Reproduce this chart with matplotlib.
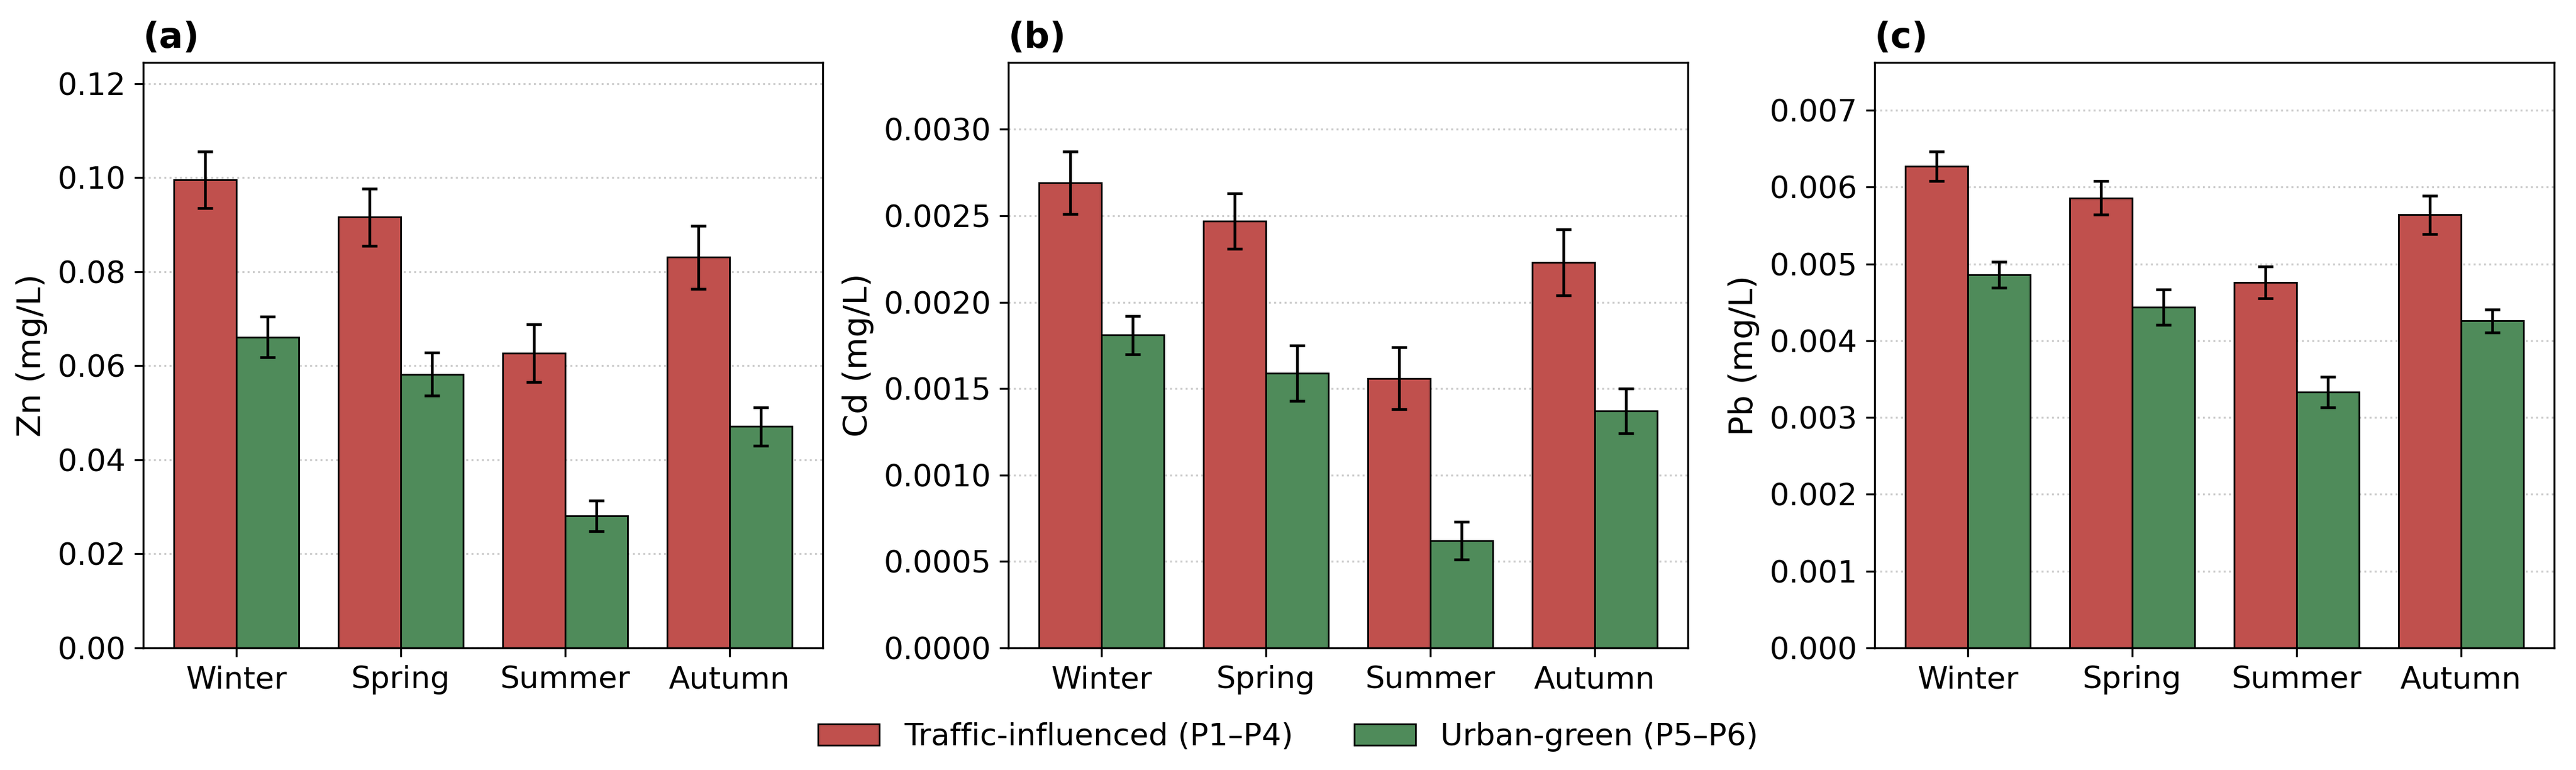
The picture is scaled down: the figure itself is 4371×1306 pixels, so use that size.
import numpy as np
import matplotlib
matplotlib.use("Agg")
import matplotlib.pyplot as plt

seasons = ["Winter", "Spring", "Summer", "Autumn"]
groups = ["Traffic-influenced (P1–P4)", "Urban-green (P5–P6)"]
panel_labels = ["(a)", "(b)", "(c)"]
ylabels = ["Zn (mg/L)", "Cd (mg/L)", "Pb (mg/L)"]

zn_traffic = [0.0995, 0.0916, 0.0627, 0.0831]
zn_traffic_sd = [0.0060, 0.0061, 0.0061, 0.0067]
zn_green = [0.0661, 0.0582, 0.0281, 0.0471]
zn_green_sd = [0.0043, 0.0046, 0.0033, 0.0041]

cd_traffic = [0.00269, 0.00247, 0.00156, 0.00223]
cd_traffic_sd = [0.00018, 0.00016, 0.00018, 0.00019]
cd_green = [0.00181, 0.00159, 0.00062, 0.00137]
cd_green_sd = [0.00011, 0.00016, 0.00011, 0.00013]

pb_traffic = [0.00627, 0.00586, 0.00476, 0.00564]
pb_traffic_sd = [0.00019, 0.00022, 0.00021, 0.00025]
pb_green = [0.00486, 0.00444, 0.00333, 0.00426]
pb_green_sd = [0.00017, 0.00023, 0.00020, 0.00015]

red = "#C0504D"
green = "#4F8B5A"

plt.rcParams['font.family'] = ['DejaVu Sans']

fig = plt.figure(figsize=(4371/300, 1306/300), dpi=300)
lefts = [243/4371, 1711/4371, 3181/4371]
width = 1153/4371
bottom = 1 - 1099/1306
height = (1099-106)/1306

data = [
    (zn_traffic, zn_traffic_sd, zn_green, zn_green_sd),
    (cd_traffic, cd_traffic_sd, cd_green, cd_green_sd),
    (pb_traffic, pb_traffic_sd, pb_green, pb_green_sd),
]

x = np.arange(len(seasons))
w = 0.38
handles = None
for i, (t, tsd, g, gsd) in enumerate(data):
    ax = fig.add_axes([lefts[i], bottom, width, height])
    ax.set_axisbelow(True)
    ax.yaxis.grid(True, linestyle=':', color='#cccccc', linewidth=0.8)
    b1 = ax.bar(x - w/2, t, w, yerr=tsd, color=red, edgecolor='black', linewidth=0.7,
                capsize=3.2, error_kw=dict(elinewidth=1.1, capthick=1.1, ecolor='black'),
                label=groups[0])
    b2 = ax.bar(x + w/2, g, w, yerr=gsd, color=green, edgecolor='black', linewidth=0.7,
                capsize=3.2, error_kw=dict(elinewidth=1.1, capthick=1.1, ecolor='black'),
                label=groups[1])
    handles = [b1, b2]
    top = max(np.max(np.array(t) + np.array(tsd)), np.max(np.array(g) + np.array(gsd)))
    ax.set_ylim(0, top * 1.18)
    ax.set_xticks(x)
    ax.set_xticklabels(seasons, fontsize=12.5)
    ax.tick_params(axis='y', labelsize=12.5)
    ax.set_ylabel(ylabels[i], fontsize=13.5)
    ax.set_title(panel_labels[i], loc='left', fontweight='bold', fontsize=14.5)

fig.legend(handles, groups, loc='center', bbox_to_anchor=(0.5, 1 - 1250/1306),
           ncol=2, frameon=False, fontsize=12.5)

fig.savefig("out.png", dpi=300)
